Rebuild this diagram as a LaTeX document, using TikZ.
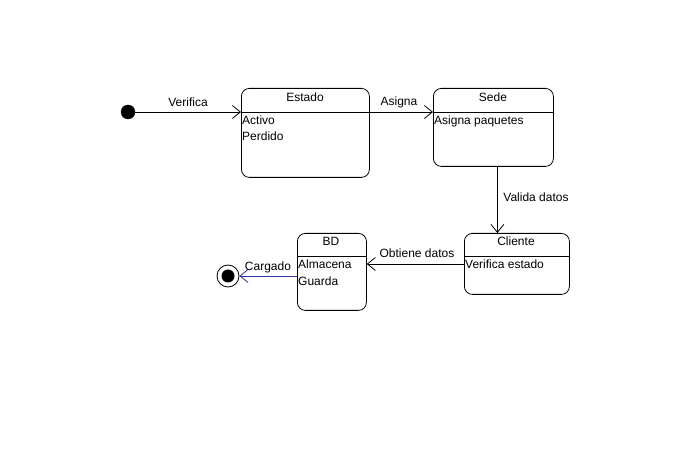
\documentclass[tikz,border=0pt]{standalone}
\usepackage{fontspec}
\setmainfont{Liberation Sans}
\usetikzlibrary{arrows.meta,calc}
\definecolor{navy}{RGB}{51,51,160}
\begin{document}
\begin{tikzpicture}[x=1pt,y=-1pt,
  every node/.style={font=\fontsize{12}{14}\selectfont, inner sep=0pt},
  statebox/.style={draw, rounded corners=8pt, line width=0.8pt, anchor=north west},
  lbl/.style={anchor=base},
  bodytxt/.style={anchor=base west, align=left},
  conn/.style={line width=0.8pt, -{Straight Barb[length=8pt,width=13pt]}}
]
\useasboundingbox (0,0) rectangle (691,462);
% states
\node[statebox, minimum width=128pt, minimum height=89pt] (estado) at (241,88) {};
\node[statebox, minimum width=120pt, minimum height=78pt] (sede) at (433,88) {};
\node[statebox, minimum width=105pt, minimum height=61pt] (cliente) at (464,233) {};
\node[statebox, minimum width=69pt, minimum height=77pt] (bd) at (297,233) {};
% dividers
\draw[line width=0.8pt] (estado.west |- 0,112) -- (estado.east |- 0,112);
\draw[line width=0.8pt] (sede.west |- 0,112) -- (sede.east |- 0,112);
\draw[line width=0.8pt] (cliente.west |- 0,256) -- (cliente.east |- 0,256);
\draw[line width=0.8pt] (bd.west |- 0,256) -- (bd.east |- 0,256);
% titles
\node[lbl] (t1) at (305,102) {Estado};
\node[lbl] (t2) at (493,102) {Sede};
\node[lbl] (t3) at (516,246) {Cliente};
\node[lbl] (t4) at (331,246) {BD};
% bodies
\node[bodytxt] (b1) at (242,125) {Activo};
\node[bodytxt] (b2) at (242,141) {Perdido};
\node[bodytxt] (b3) at (434,125) {Asigna paquetes};
\node[bodytxt] (b4) at (465,269) {Verifica estado};
\node[bodytxt] (b5) at (298,269) {Almacena};
\node[bodytxt] (b6) at (298,286) {Guarda};
% initial and final
\node[circle, fill=black, draw=black, minimum size=14pt] (init) at (128,112) {};
\node[circle, draw=black, line width=0.8pt, minimum size=22pt] (fin) at (228,276) {};
\node[circle, fill=black, minimum size=13pt] (fininner) at (228,276) {};
% connectors
\draw[conn] (init.east) -- (init -| estado.west);
\node[lbl] (l1) at (188,107) {Verifica};
\draw[conn] (init -| estado.east) -- (init -| sede.west);
\node[lbl] (l2) at (399,106) {Asigna};
\coordinate (vs) at ([xshift=4pt]sede.south);
\draw[conn] (vs) -- (vs |- cliente.north);
\node[lbl] (l3) at (536,202) {Valida datos};
\coordinate (od) at (cliente.west |- 0,264);
\draw[conn] (od) -- (od -| bd.east);
\node[lbl] (l4) at (417,258) {Obtiene datos};
\coordinate (cg) at (bd.west |- fin);
\draw[conn, draw=navy] (cg) -- (fin.east);
\node[lbl] (l5) at (268,271) {Cargado};
\end{tikzpicture}
\end{document}
